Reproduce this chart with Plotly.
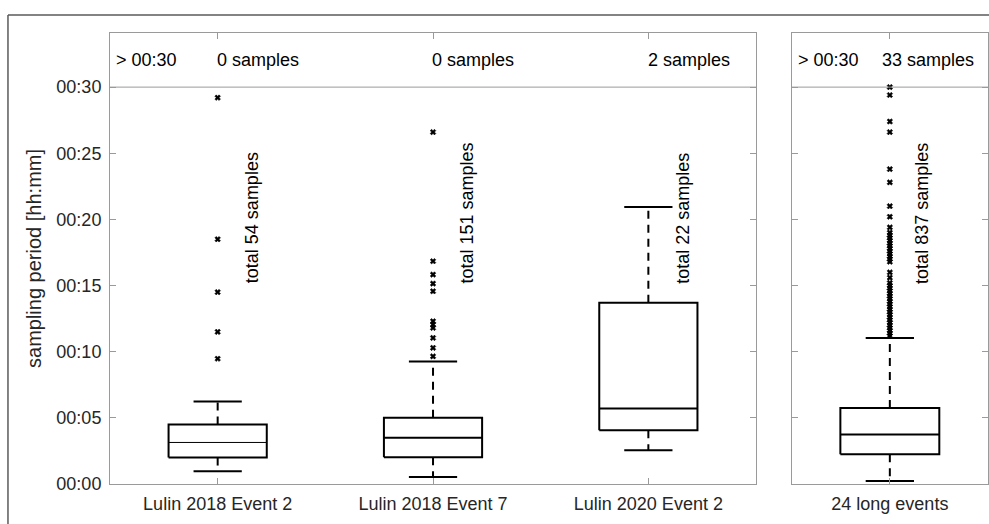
import plotly.graph_objects as go

# ---------------- data (minutes) ----------------
categories_left = ["Lulin 2018 Event 2", "Lulin 2018 Event 7", "Lulin 2020 Event 2"]
categories_right = ["24 long events"]

q1_left = [2.0, 2.03, 4.07]
median_left = [3.14, 3.49, 5.7]
q3_left = [4.5, 5.0, 13.7]
low_whisker_left = [0.96, 0.53, 2.56]
up_whisker_left = [6.23, 9.26, 20.93]
outliers_left = [
    [9.47, 11.5, 14.5, 18.5, 29.2],
    [9.65, 10.29, 11.04, 11.8, 12.05, 12.3, 14.57, 15.15, 15.83, 16.84, 26.6],
    [],
]
above30_left = [0, 0, 2]
total_left = [54, 151, 22]

q1_right = [2.24]
median_right = [3.74]
q3_right = [5.75]
low_whisker_right = [0.22]
up_whisker_right = [11.04]
outliers_right = [[
    11.2, 11.4, 11.6, 11.8, 12.0, 12.2, 12.4, 12.6, 12.8, 13.0, 13.2, 13.4,
    13.6, 13.8, 14.0, 14.2, 14.4, 14.6, 14.8, 15.0, 15.2, 15.6, 16.0,
    16.8, 17.0, 17.2, 17.4, 17.6, 17.8, 18.0, 18.2, 18.4, 18.6, 18.8, 19.0, 19.4,
    20.2, 21.0, 22.8, 23.8, 26.6, 27.4, 29.4, 30.0,
]]
above30_right = [33]
total_right = [837]

# ---------------- style ----------------
FONT = "Liberation Sans, Arial, sans-serif"
TXT = "#000000"
AXC = "#9a9a9a"
YMAX = 34.09
LIMIT = 30

fig = go.Figure()


def add_panel(xaxis, yaxis, cats, q1, med, q3, lo, hi, outs, above, totals,
              box_hw, cap_hw, text_dx, count_dx, first_thin):
    for i, name in enumerate(cats):
        c = i + 1
        mw = 1 if (first_thin and i == 0) else 2
        line = dict(color="black", width=2)
        common = dict(xaxis=xaxis, yaxis=yaxis, mode="lines", showlegend=False,
                      hoverinfo="skip")
        # box
        fig.add_trace(go.Scatter(
            x=[c - box_hw, c + box_hw, c + box_hw, c - box_hw, c - box_hw],
            y=[q1[i], q1[i], q3[i], q3[i], q1[i]], line=line, **common))
        # median
        fig.add_trace(go.Scatter(x=[c - box_hw, c + box_hw], y=[med[i], med[i]],
                                 line=dict(color="black", width=mw), **common))
        # whiskers (dashed)
        fig.add_trace(go.Scatter(x=[c, c], y=[q3[i], hi[i]],
                                 line=dict(color="black", width=2, dash="8px,6px"),
                                 **common))
        fig.add_trace(go.Scatter(x=[c, c], y=[q1[i], lo[i]],
                                 line=dict(color="black", width=2, dash="8px,6px"),
                                 **common))
        # caps
        for v in (hi[i], lo[i]):
            fig.add_trace(go.Scatter(x=[c - cap_hw, c + cap_hw], y=[v, v],
                                     line=line, **common))
        # outliers
        if outs[i]:
            fig.add_trace(go.Scatter(
                x=[c] * len(outs[i]), y=outs[i], xaxis=xaxis, yaxis=yaxis,
                mode="markers", showlegend=False, hoverinfo="skip",
                marker=dict(symbol="x", size=5, color="black",
                            line=dict(width=0.5, color="black"))))
        # rotated total text
        fig.add_annotation(xref=xaxis, yref=yaxis, x=c + text_dx, y=15,
                           text=f"total {totals[i]} samples", textangle=-90,
                           showarrow=False, xanchor="center", yanchor="bottom",
                           font=dict(family=FONT, size=18, color=TXT))
        # count above limit
        fig.add_annotation(xref=xaxis, yref=yaxis, x=c + count_dx,
                           y=(LIMIT + YMAX) / 2,
                           text=f"{above[i]} samples", showarrow=False,
                           xanchor="left", yanchor="middle",
                           font=dict(family=FONT, size=18, color=TXT))
    # "> 00:30" label
    fig.add_annotation(xref=xaxis, yref=yaxis, x=0.5, y=(LIMIT + YMAX) / 2,
                       text="&gt; 00:30", showarrow=False, xanchor="left",
                       xshift=4, yanchor="middle",
                       font=dict(family=FONT, size=18, color=TXT))
    # limit line
    fig.add_trace(go.Scatter(x=[0.5, len(cats) + 0.5], y=[LIMIT, LIMIT],
                             xaxis=xaxis, yaxis=yaxis, mode="lines",
                             line=dict(color=AXC, width=1), showlegend=False,
                             hoverinfo="skip", cliponaxis=False))


add_panel("x", "y", categories_left, q1_left, median_left, q3_left,
          low_whisker_left, up_whisker_left, outliers_left, above30_left,
          total_left, box_hw=0.228, cap_hw=0.112, text_dx=0.160,
          count_dx=-0.013, first_thin=True)
add_panel("x2", "y2", categories_right, q1_right, median_right, q3_right,
          low_whisker_right, up_whisker_right, outliers_right, above30_right,
          total_right, box_hw=0.252, cap_hw=0.123, text_dx=0.163,
          count_dx=-0.05, first_thin=False)

ytickvals = [0, 5, 10, 15, 20, 25, 30]
yticktext = [f"00:{v:02d}" for v in ytickvals]

axis_common = dict(showline=True, linecolor=AXC, linewidth=1, mirror="ticks",
                   ticks="inside", ticklen=6, tickcolor=AXC, showgrid=False,
                   zeroline=False)

fig.update_layout(
    width=989, height=524,
    margin=dict(l=110, r=1, t=33, b=40),
    paper_bgcolor="white", plot_bgcolor="white",
    font=dict(family=FONT, size=18, color="#262626"),
    xaxis=dict(domain=[0, 0.7358], range=[0.5, 3.5], tickvals=[1, 2, 3],
               ticktext=categories_left, ticklabelstandoff=3, anchor="y",
               **axis_common),
    xaxis2=dict(domain=[0.7764, 1.0], range=[0.5, 1.5], tickvals=[1],
                ticktext=categories_right, ticklabelstandoff=3, anchor="y2",
                **axis_common),
    yaxis=dict(range=[0, YMAX], tickvals=ytickvals, ticktext=yticktext,
               anchor="x",
               title=dict(text="sampling period [hh:mm]", standoff=9,
                          font=dict(size=20)),
               ticklabelstandoff=4, **axis_common),
    yaxis2=dict(range=[0, YMAX], tickvals=ytickvals, showticklabels=False,
                anchor="x2", matches="y", **axis_common),
)

# outer figure frame (top and left edges)
fig.add_shape(type="line", xref="paper", yref="paper", x0=-0.1162, x1=1.01,
              y0=1.0399, y1=1.0399, line=dict(color="#5a5a5a", width=1.5))
fig.add_shape(type="line", xref="paper", yref="paper", x0=-0.1162, x1=-0.1162,
              y0=1.0399, y1=-0.1, line=dict(color="#5a5a5a", width=1.5))

fig.write_html("out.html", config={"displayModeBar": False},
               post_script="document.body.style.margin='0';"
                           "document.body.style.padding='0';")
